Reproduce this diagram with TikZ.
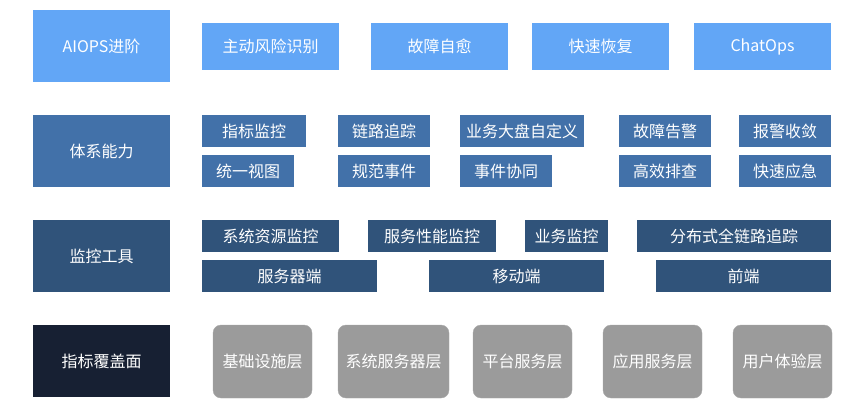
\documentclass[tikz,border=0pt]{standalone}
\usepackage{fontspec}
\setmainfont{Noto Sans CJK SC}
\definecolor{lightblue}{HTML}{62A6F6}
\definecolor{midblue}{HTML}{4271A9}
\definecolor{darkblue}{HTML}{30537A}
\definecolor{navy}{HTML}{172033}
\definecolor{layergray}{HTML}{9B9B9B}
\begin{document}
\begin{tikzpicture}[x=1pt,y=-1pt,
  every node/.style={inner sep=0pt,text=white,font=\fontsize{16}{19}\selectfont},
  head/.style={minimum width=137pt,minimum height=72pt},
  aiops/.style={fill=lightblue,minimum width=137pt,minimum height=47pt},
  ability/.style={fill=midblue,minimum height=32pt},
  tool/.style={fill=darkblue,minimum height=32pt},
  layer/.style={fill=layergray,draw=layergray!85!white,rounded corners=8pt,minimum height=73pt}]
\useasboundingbox (0,0) rectangle (866,412);

\node[head,fill=lightblue] (aiops) at (101.5,46) {AIOPS进阶};
\node[aiops] (risk) at (270.5,46.5) {主动风险识别};
\node[aiops] (heal) at (439.5,46.5) {故障自愈};
\node[aiops] (recover) at (600.5,46.5) {快速恢复};
\node[aiops] (chatops) at (762.5,46.5) {ChatOps};

\node[head,fill=midblue] (system) at (101.5,151) {体系能力};
\node[ability,minimum width=104pt] (metric) at (254,131) {指标监控};
\node[ability,minimum width=92pt] (trace) at (384,131) {链路追踪};
\node[ability,minimum width=124pt] (dashboard) at (522,131) {业务大盘自定义};
\node[ability,minimum width=92pt] (alert) at (665,131) {故障告警};
\node[ability,minimum width=92pt] (converge) at (785,131) {报警收敛};
\node[ability,minimum width=92pt] (view) at (248,171) {统一视图};
\node[ability,minimum width=92pt] (event) at (384,171) {规范事件};
\node[ability,minimum width=92pt] (collab) at (506,171) {事件协同};
\node[ability,minimum width=92pt] (debug) at (665,171) {高效排查};
\node[ability,minimum width=92pt] (respond) at (785,171) {快速应急};

\node[head,fill=darkblue] (tools) at (101.5,256) {监控工具};
\node[tool,minimum width=137pt] (resource) at (270.5,236) {系统资源监控};
\node[tool,minimum width=128pt] (apm) at (432,236) {服务性能监控};
\node[tool,minimum width=83pt] (biz) at (566.5,236) {业务监控};
\node[tool,minimum width=194pt] (fulltrace) at (734,236) {分布式全链路追踪};
\node[tool,minimum width=175pt] (server) at (289.5,276) {服务器端};
\node[tool,minimum width=175pt] (mobile) at (516.5,276) {移动端};
\node[tool,minimum width=175pt] (front) at (743.5,276) {前端};

\node[head,fill=navy] (coverage) at (101.5,361) {指标覆盖面};
\node[layer,minimum width=99pt] (infra) at (262.5,361.5) {基础设施层};
\node[layer,minimum width=111pt] (sysserver) at (393.5,361.5) {系统服务器层};
\node[layer,minimum width=99pt] (platform) at (522.5,361.5) {平台服务层};
\node[layer,minimum width=99pt] (app) at (652.5,361.5) {应用服务层};
\node[layer,minimum width=99pt] (ux) at (782.5,361.5) {用户体验层};
\end{tikzpicture}
\end{document}
